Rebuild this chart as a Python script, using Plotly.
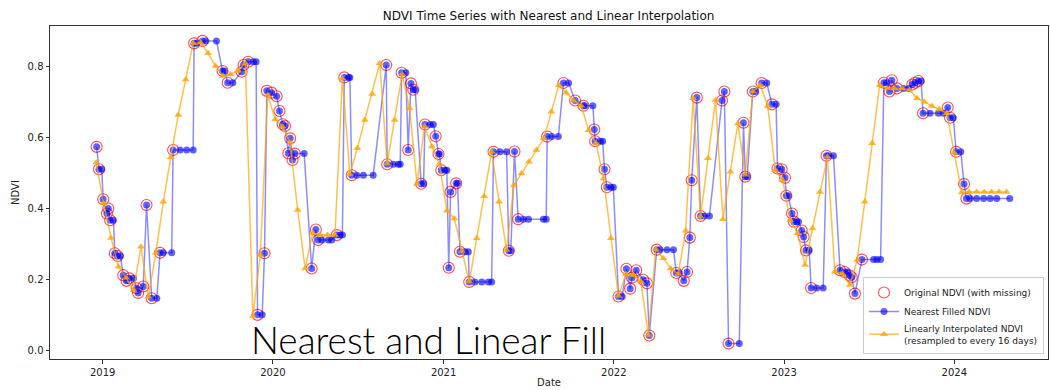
import pandas as pd
import plotly.graph_objects as go

N = None
BASE = pd.Timestamp("2019-01-01")

# observation dates (days since 2019-01-01)
obs_day = [
    -13, -8, -2, 1, 9, 12, 16, 23, 26, 32, 38, 44, 51, 57, 66, 73, 76, 87, 94, 105,
    116, 123, 130, 148, 151, 166, 180, 194, 196, 202, 214, 221, 244, 257, 261, 268, 279, 298, 302, 312,
    323, 329, 332, 342, 347, 352, 362, 373, 379, 386, 391, 398, 402, 407, 412, 432, 448, 457, 462, 470,
    484, 491, 502, 509, 514, 518, 527, 530, 534, 545, 559, 580, 608, 610, 623, 634, 638, 641, 650, 655,
    661, 666, 670, 683, 688, 691, 702, 709, 714, 720, 722, 726, 734, 738, 742, 746, 758, 761, 766, 777,
    784, 786, 798, 813, 827, 834, 838, 852, 866, 871, 875, 883, 891, 902, 913, 945, 951, 953, 963, 977,
    988, 999, 1013, 1031, 1034, 1051, 1054, 1056, 1067, 1072, 1076, 1081, 1090, 1095, 1106, 1114, 1123, 1131, 1135, 1144,
    1159, 1167, 1172, 1188, 1195, 1210, 1224, 1230, 1236, 1246, 1253, 1259, 1263, 1274, 1282, 1290, 1301, 1328, 1333, 1342,
    1365, 1374, 1378, 1382, 1394, 1400, 1413, 1424, 1435, 1444, 1447, 1456, 1463, 1466, 1470, 1478, 1482, 1488, 1492, 1499,
    1503, 1508, 1515, 1519, 1531, 1545, 1552, 1556, 1567, 1581, 1591, 1597, 1602, 1606, 1613, 1628, 1653, 1660, 1668, 1675,
    1681, 1687, 1692, 1703, 1717, 1728, 1736, 1742, 1749, 1755, 1759, 1774, 1792, 1803, 1812, 1817, 1824, 1830, 1840, 1847,
    1852, 1860, 1874, 1889, 1903, 1917, 1945,
]

ndvi_nearest = [
    .574, .511, .511, .426, .386, .400, .367, .367, .274, .266, .266, .212, .196, .203, .203, .175, .162, .180, .410, .147,
    .147, .275, .275, .275, .565, .565, .565, .565, .866, .866, .873, .873, .873, .788, .788, .755, .755, .786, .805, .814,
    .814, .814, .100, .100, .274, .732, .727, .717, .675, .638, .633, .556, .598, .537, .555, .555, .231, .341, .311, .311,
    .311, .311, .325, .325, .325, .770, .770, .770, .494, .494, .494, .494, .805, .525, .525, .525, .525, .783, .783, .565,
    .753, .735, .735, .470, .470, .637, .637, .637, .604, .554, .554, .508, .508, .508, .233, .447, .471, .471, .278, .278,
    .278, .193, .193, .193, .193, .193, .560, .560, .560, .281, .281, .561, .370, .370, .370, .370, .370, .603, .603, .603,
    .754, .754, .705, .690, .690, .690, .623, .590, .590, .590, .511, .460, .460, .460, .152, .152, .230, .174, .205, .226,
    .199, .189, .042, .284, .284, .284, .284, .218, .218, .196, .221, .318, .480, .713, .379, .379, .379, .705, .730, .019,
    .019, .642, .490, .490, .730, .730, .754, .754, .694, .694, .513, .511, .487, .436, .436, .386, .363, .363, .363, .338,
    .320, .282, .282, .176, .176, .176, .549, .549, .549, .226, .221, .221, .211, .206, .160, .256, .256, .256, .256, .755,
    .755, .730, .762, .739, .739, .739, .750, .755, .760, .760, .669, .669, .669, .669, .685, .656, .656, .560, .560, .469,
    .428, .428, .428, .428, .428, .428, .428,
]

ndvi_original = [
    .574, .511, N, .426, .386, .400, .367, N, .274, .266, N, .212, .196, .203, N, .175, .162, .180, .410, .147,
    N, .275, N, N, .565, N, N, N, .866, N, .873, N, N, .788, N, .755, N, .786, .805, .814,
    N, N, .100, N, .274, .732, .727, .717, .675, .638, .633, .556, .598, .537, .555, N, .231, .341, .311, N,
    N, N, .325, N, N, .770, N, N, .494, N, N, N, .805, .525, N, N, N, .783, N, .565,
    .753, .735, N, .470, N, .637, N, N, .604, .554, N, .508, N, N, .233, .447, .471, N, .278, N,
    N, .193, N, N, N, N, .560, N, N, .281, N, .561, .370, N, N, N, N, .603, N, N,
    .754, N, .705, .690, N, N, .623, .590, N, N, .511, .460, N, N, .152, N, .230, .174, .205, .226,
    .199, .189, .042, .284, N, N, N, .218, N, .196, .221, .318, .480, .713, .379, N, N, .705, .730, .019,
    N, .642, .490, N, .730, N, .754, N, .694, N, .513, .511, .487, .436, N, .386, .363, N, N, .338,
    .320, .282, N, .176, N, N, .549, N, N, .226, .221, N, .211, .206, .160, .256, N, N, N, .755,
    N, .730, .762, .739, N, N, .750, .755, .760, N, .669, N, N, N, .685, .656, N, .560, N, .469,
    .428, N, N, N, N, N, N,
]

# linear interpolation resampled every 16 days, starting 2018-12-18
linear_start = "2018-12-18"
ndvi_linear = [
    .530, .415, .317, .236, .205, .170, .292, .151, .275, .419, .545, .664, .764, .866, .868, .838, .802, .774, .779, .789,
    .810, .097, .269, .720, .652, .631, .586, .396, .231, .330, .325, .325, .325, .767, .497, .570, .650, .723, .810, .527,
    .650, .779, .683, .469, .632, .575, .526, .394, .372, .280, .194, .316, .435, .560, .419, .283, .466, .499, .532, .565,
    .598, .673, .748, .727, .705, .690, .621, .584, .485, .316, .153, .215, .212, .194, .043, .285, .260, .231, .215, .337,
    .711, .377, .542, .706, .370, .504, .640, .495, .730, .748, .689, .509, .480, .367, .330, .241, .344, .447, .546, .222,
    .217, .184, .255, .419, .584, .748, .739, .739, .739, .735, .711, .701, .689, .680, .669, .557, .445, .447, .447, .447,
    .447, .447, .447,
]

obs_dates = [BASE + pd.Timedelta(days=d) for d in obs_day]
lin_dates = pd.date_range(linear_start, periods=len(ndvi_linear), freq="16D")

FONT = "DejaVu Sans"

fig = go.Figure()
fig.add_trace(go.Scatter(
    x=obs_dates, y=ndvi_original, mode="markers", name="Original NDVI (with missing)",
    marker=dict(symbol="circle-open", size=11, color="rgba(255,0,0,0.7)", line=dict(width=1.1)),
))
fig.add_trace(go.Scatter(
    x=obs_dates, y=ndvi_nearest, mode="lines+markers", name="Nearest Filled NDVI",
    line=dict(color="rgba(0,0,255,0.45)", width=1.5),
    marker=dict(symbol="circle", size=7, color="rgba(0,0,255,0.62)"),
))
fig.add_trace(go.Scatter(
    x=lin_dates, y=ndvi_linear, mode="lines+markers",
    name="Linearly Interpolated NDVI<br>(resampled to every 16 days)",
    line=dict(color="rgba(255,165,0,0.7)", width=1.5),
    marker=dict(symbol="triangle-up", size=7, color="rgba(255,165,0,0.8)"),
))

axis_common = dict(
    showline=True, mirror=True, linecolor="#333333", linewidth=1,
    ticks="outside", ticklen=3.5, tickwidth=1, tickcolor="#333333",
    showgrid=False, zeroline=False,
    tickfont=dict(family=FONT, size=10, color="#222222"),
)

fig.update_layout(
    width=1050, height=390,
    margin=dict(l=50, r=2, t=26, b=31),
    paper_bgcolor="white", plot_bgcolor="white",
    font=dict(family=FONT, size=10, color="#222222"),
    title=dict(text="NDVI Time Series with Nearest and Linear Interpolation",
               x=0.5225, xanchor="center", y=1 - 16 / 390, yanchor="middle",
               font=dict(family=FONT, size=12, color="#111111")),
    xaxis=dict(
        range=["2018-09-10", "2024-07-20"],
        tick0="2019-01-01", dtick="M12", tickformat="%Y",
        title=dict(text="Date", standoff=2, font=dict(family=FONT, size=10)),
        automargin=False,
        **axis_common,
    ),
    yaxis=dict(
        range=[-0.0245, 0.915],
        tickvals=[0, 0.2, 0.4, 0.6, 0.8], ticktext=["0.0", "0.2", "0.4", "0.6", "0.8"],
        title=dict(text="NDVI", standoff=6, font=dict(family=FONT, size=10)),
        automargin=False,
        **axis_common,
    ),
    legend=dict(
        x=0.996, xanchor="right", y=0.015, yanchor="bottom",
        bgcolor="rgba(255,255,255,0.85)", bordercolor="#cccccc", borderwidth=1,
        font=dict(family=FONT, size=9, color="#222222"),
        tracegroupgap=0, itemwidth=30,
    ),
    showlegend=True,
)

fig.add_annotation(
    text="Nearest and Linear Fill", xref="paper", yref="paper",
    x=0.379, y=0.06, xanchor="center", yanchor="middle", showarrow=False,
    font=dict(family="Lato", size=37, color="black", weight=300),
)

fig.write_html("out.html")
